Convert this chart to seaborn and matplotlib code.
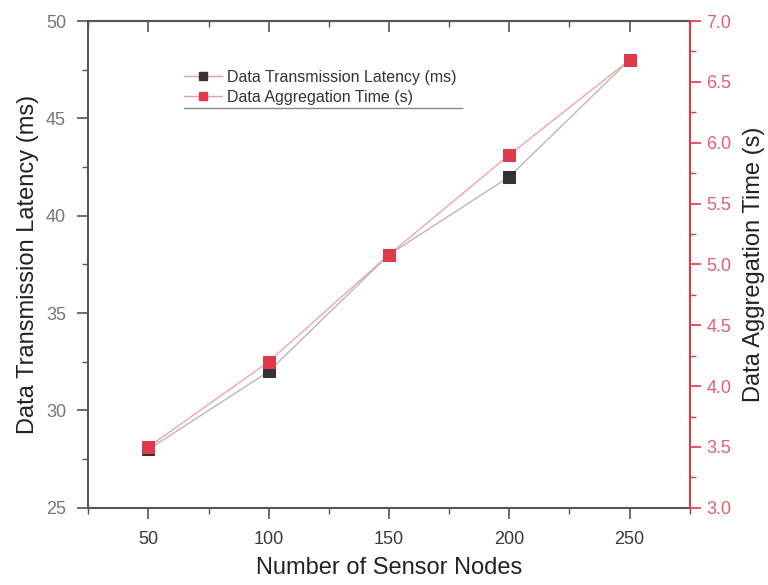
import matplotlib
matplotlib.use('Agg')
import matplotlib.pyplot as plt
import pandas as pd
import seaborn as sns
from matplotlib.ticker import MultipleLocator, FormatStrFormatter
from matplotlib.lines import Line2D

# Data
nodes = [50, 100, 150, 200, 250]
latency_ms = [28, 32, 38, 42, 48]
aggregation_s = [3.5, 4.2, 5.08, 5.9, 6.68]

df = pd.DataFrame({'nodes': nodes, 'latency': latency_ms, 'aggregation': aggregation_s})

sns.set_style('ticks')
plt.rcParams['font.family'] = ['Liberation Sans', 'DejaVu Sans']

red = '#df3a4c'
red_txt = '#e0606f'
axis_col = '#555555'

fig, ax = plt.subplots(figsize=(7.68, 5.85), dpi=100)
fig.subplots_adjust(left=0.115, right=0.898, top=0.964, bottom=0.132)
ax2 = ax.twinx()

# Lines
sns.lineplot(data=df, x='nodes', y='latency', ax=ax, color='#b8b8b8', linewidth=1.0,
             marker='s', markersize=8, markerfacecolor='#333333', markeredgecolor='#333333')
sns.lineplot(data=df, x='nodes', y='aggregation', ax=ax2, color='#f2a4ac', linewidth=1.0,
             marker='s', markersize=8, markerfacecolor=red, markeredgecolor=red)

# Axis limits / ticks
ax.set_xlim(25, 275)
ax.set_ylim(25, 50)
ax2.set_ylim(3.0, 7.0)
ax.xaxis.set_major_locator(MultipleLocator(50))
ax.xaxis.set_minor_locator(MultipleLocator(25))
ax.yaxis.set_major_locator(MultipleLocator(5))
ax.yaxis.set_minor_locator(MultipleLocator(2.5))
ax2.yaxis.set_major_locator(MultipleLocator(0.5))
ax2.yaxis.set_minor_locator(MultipleLocator(0.25))
ax2.yaxis.set_major_formatter(FormatStrFormatter('%.1f'))

ax.tick_params(axis='both', which='major', direction='out', length=8, width=1.2,
               labelsize=13, color=axis_col, pad=8)
ax.tick_params(axis='both', which='minor', direction='out', length=4, width=1.0, color=axis_col)
ax.tick_params(axis='x', labelcolor='#3a3a3a', pad=9)
ax.tick_params(axis='y', labelcolor='#777777')
ax2.tick_params(axis='y', which='major', direction='out', length=8, width=1.2,
                labelsize=13, labelcolor=red_txt, color=red, pad=4)
ax2.tick_params(axis='y', which='minor', direction='out', length=4, width=1.0, color=red)

# top axis with ticks pointing into the plot
top = ax.secondary_xaxis('top')
top.xaxis.set_major_locator(MultipleLocator(50))
top.xaxis.set_minor_locator(MultipleLocator(25))
top.tick_params(axis='x', which='major', direction='in', length=8, width=1.2,
                color=axis_col, labeltop=False)
top.tick_params(axis='x', which='minor', direction='in', length=4, width=1.0, color=axis_col)
top.spines['top'].set_color(axis_col)
top.spines['top'].set_linewidth(1.5)

for s in ['left', 'top', 'bottom']:
    ax.spines[s].set_color(axis_col)
    ax.spines[s].set_linewidth(1.5)
for s in ['left', 'top', 'bottom']:
    ax2.spines[s].set_visible(False)
ax2.spines['right'].set_color(red)
ax2.spines['right'].set_linewidth(1.5)
ax.spines['right'].set_visible(False)

ax.set_xlabel('Number of Sensor Nodes', fontsize=17, color='#222222', labelpad=6)
ax.set_ylabel('Data Transmission Latency (ms)', fontsize=17, color='#222222', labelpad=5)
ax2.set_ylabel('Data Aggregation Time (s)', fontsize=17, color='#222222', labelpad=8)

# Legend
handles = [
    Line2D([], [], color='#e89aa2', linewidth=1.0, marker='s', markersize=6,
           markerfacecolor='#333333', markeredgecolor='#333333'),
    Line2D([], [], color='#e89aa2', linewidth=1.0, marker='s', markersize=6,
           markerfacecolor=red, markeredgecolor=red),
]
leg = ax.legend(handles, ['Data Transmission Latency (ms)', 'Data Aggregation Time (s)'],
                loc='upper left', bbox_to_anchor=(0.159, 0.9), frameon=False,
                fontsize=11.5, handlelength=2.4, handletextpad=0.3, labelspacing=0.3,
                borderaxespad=0, borderpad=0)
for t in leg.get_texts():
    t.set_color('#333333')
ax.plot([0.159, 0.621], [0.821, 0.821], transform=ax.transAxes, color='#888888', linewidth=1.0)

fig.savefig('out.png', dpi=100)
